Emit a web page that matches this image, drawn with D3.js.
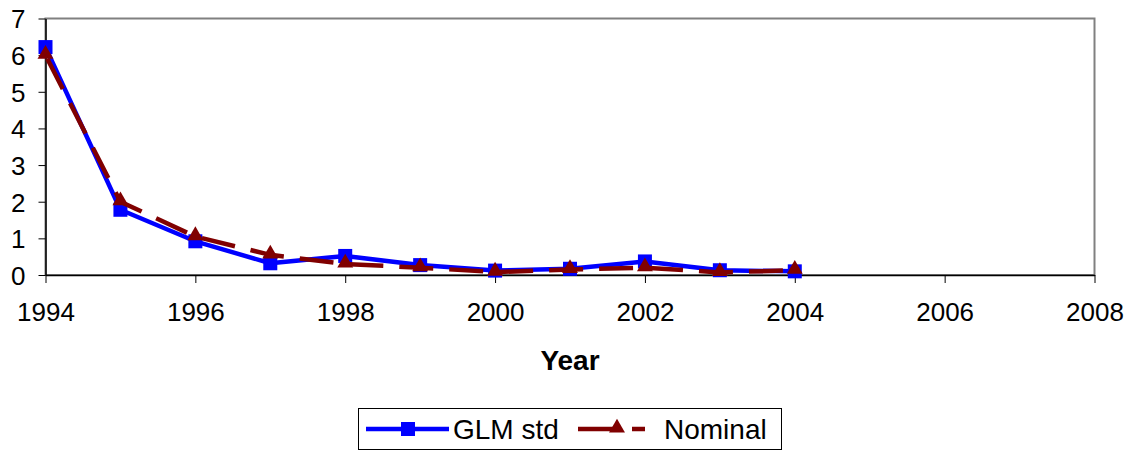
<!DOCTYPE html>
<html>
<head>
<meta charset="utf-8">
<script src="https://cdn.jsdelivr.net/npm/d3@7"></script>
<style>
  body { margin: 0; background: #fff; }
  svg { display: block; font-family: "Liberation Sans", Arial, sans-serif; }
</style>
</head>
<body>
<div id="chart"></div>
<script>
var years = [1994, 1995, 1996, 1997, 1998, 1999, 2000, 2001, 2002, 2003, 2004];
var glmStd = [6.22, 1.78, 0.92, 0.32, 0.52, 0.27, 0.12, 0.17, 0.37, 0.13, 0.1];
var nominal = [6.0, 2.0, 1.05, 0.55, 0.3, 0.2, 0.08, 0.15, 0.2, 0.07, 0.13];
var xTicks = [1994, 1996, 1998, 2000, 2002, 2004, 2006, 2008];
var yTicks = [0, 1, 2, 3, 4, 5, 6, 7];

var width = 1133, height = 451;
var margin = { top: 18.5, right: 38.5, bottom: 176, left: 45.5 };

var svg = d3.select("#chart").append("svg")
  .attr("width", width)
  .attr("height", height);

var x = d3.scaleLinear().domain([1994, 2008]).range([margin.left, width - margin.right]);
var y = d3.scaleLinear().domain([0, 7]).range([height - margin.bottom, margin.top]);

// plot frame (top/right in grey)
svg.append("rect")
  .attr("x", x(1994)).attr("y", y(7))
  .attr("width", x(2008) - x(1994)).attr("height", y(0) - y(7))
  .attr("fill", "none").attr("stroke", "#808080").attr("stroke-width", 2);

var xAxis = svg.append("g")
  .attr("transform", "translate(0," + y(0) + ")")
  .call(d3.axisBottom(x).tickValues(xTicks).tickFormat(d3.format("d")).tickSize(8).tickSizeOuter(0).tickPadding(20));

var yAxis = svg.append("g")
  .attr("transform", "translate(" + x(1994) + ",0)")
  .call(d3.axisLeft(y).tickValues(yTicks).tickFormat(d3.format("d")).tickSize(7).tickSizeOuter(0).tickPadding(13));

[xAxis, yAxis].forEach(function(g) {
  g.select(".domain").attr("stroke", "#000").attr("stroke-width", 1.5);
  g.selectAll(".tick line").attr("stroke", "#000").attr("stroke-width", 1);
  g.selectAll(".tick text").attr("fill", "#000").style("font-size", "26px");
});
yAxis.selectAll(".tick text").attr("dy", "0.36em");

svg.append("text")
  .attr("x", (x(1994) + x(2008)) / 2)
  .attr("y", 370)
  .attr("text-anchor", "middle")
  .style("font-size", "28px")
  .style("font-weight", "bold")
  .text("Year");

var line = d3.line()
  .x(function(d) { return x(d.year); })
  .y(function(d) { return y(d.value); });

var glmData = years.map(function(yr, i) { return { year: yr, value: glmStd[i] }; });
var nomData = years.map(function(yr, i) { return { year: yr, value: nominal[i] }; });

var triangle = d3.symbol().type(d3.symbolTriangle).size(110);

svg.append("path")
  .datum(glmData)
  .attr("d", line)
  .attr("fill", "none")
  .attr("stroke", "#0000ff")
  .attr("stroke-width", 4.5)
  .attr("stroke-linejoin", "round");

svg.selectAll(".sq")
  .data(glmData)
  .enter()
  .append("rect")
  .attr("class", "sq")
  .attr("x", function(d) { return x(d.year) - 7; })
  .attr("y", function(d) { return y(d.value) - 7; })
  .attr("width", 14)
  .attr("height", 14)
  .attr("fill", "#0000ff");

svg.append("path")
  .datum(nomData)
  .attr("d", line)
  .attr("fill", "none")
  .attr("stroke", "#800000")
  .attr("stroke-width", 4.5)
  .attr("stroke-dasharray", "34,16")
  .attr("stroke-dashoffset", -4);

svg.selectAll(".tri")
  .data(nomData)
  .enter()
  .append("path")
  .attr("class", "tri")
  .attr("transform", function(d) { return "translate(" + x(d.year) + "," + (y(d.value) - 1) + ")"; })
  .attr("d", triangle)
  .attr("fill", "#800000");

// legend
var legend = svg.append("g");
legend.append("rect")
  .attr("x", 358.5).attr("y", 408.5)
  .attr("width", 423).attr("height", 41)
  .attr("fill", "#fff").attr("stroke", "#000").attr("stroke-width", 1);

legend.append("line")
  .attr("x1", 366).attr("x2", 449).attr("y1", 429).attr("y2", 429)
  .attr("stroke", "#0000ff").attr("stroke-width", 4.5);
legend.append("rect")
  .attr("x", 401).attr("y", 422).attr("width", 14).attr("height", 14)
  .attr("fill", "#0000ff");
legend.append("text")
  .attr("x", 453).attr("y", 438.5)
  .style("font-size", "28px")
  .text("GLM std");

legend.append("line")
  .attr("x1", 578).attr("x2", 645).attr("y1", 429).attr("y2", 429)
  .attr("stroke", "#800000").attr("stroke-width", 4.5)
  .attr("stroke-dasharray", "36,18");
legend.append("path")
  .attr("transform", "translate(617,428)")
  .attr("d", triangle)
  .attr("fill", "#800000");
legend.append("text")
  .attr("x", 664).attr("y", 438.5)
  .style("font-size", "28px")
  .text("Nominal");
</script>
</body>
</html>
